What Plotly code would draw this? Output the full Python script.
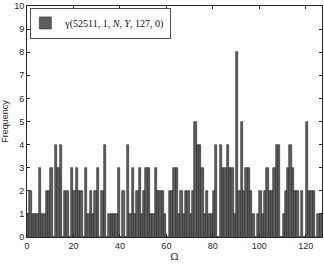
import plotly.graph_objects as go

# bin left edges 0..126 (bin width 1), frequencies
omega_bins = list(range(127))
frequency = [
    1, 2, 1, 1, 1, 3, 1, 1, 2, 2,
    3, 0, 4, 3, 4, 0, 2, 2, 0, 3,
    2, 3, 2, 2, 0, 3, 1, 2, 1, 2,
    3, 0, 2, 4, 0, 1, 1, 1, 1, 3,
    0, 2, 0, 4, 1, 3, 1, 2, 3, 1,
    2, 3, 3, 1, 1, 3, 2, 2, 2, 1,
    0, 2, 2, 3, 3, 1, 2, 1, 2, 2,
    1, 2, 5, 4, 4, 3, 1, 2, 1, 1,
    2, 4, 0, 4, 3, 3, 4, 3, 3, 1,
    8, 2, 5, 2, 3, 3, 2, 1, 0, 1,
    2, 1, 2, 3, 2, 2, 3, 4, 4, 0,
    1, 2, 3, 4, 3, 2, 2, 0, 2, 0,
    5, 2, 2, 2, 0, 1, 1,
]
x_ticks = [0, 20, 40, 60, 80, 100, 120]
y_ticks = list(range(11))
legend_label = "γ(52511, 1, <i>N</i>, <i>Y</i>, 127, 0)"

centers = [b + 0.5 for b in omega_bins]

fig = go.Figure()
fig.add_trace(go.Bar(
    x=centers, y=frequency, width=1.0,
    marker=dict(color="#5e5e5e", line=dict(color="#262626", width=0.6)),
    name=legend_label, showlegend=True,
))

axis_common = dict(
    showgrid=False, zeroline=False, showline=True, linecolor="#262626",
    linewidth=0.8, mirror="ticks", ticks="inside", ticklen=3,
    tickcolor="#262626", tickwidth=0.8,
    tickfont=dict(family="Liberation Sans, Arial", size=9, color="#262626"),
)

fig.update_layout(
    width=324, height=267,
    margin=dict(l=27, r=2, t=6, b=30, autoexpand=False),
    paper_bgcolor="white", plot_bgcolor="white",
    bargap=0,
    xaxis=dict(range=[0, 127], tickvals=x_ticks, **axis_common,
               title=dict(text="Ω", standoff=3,
                          font=dict(family="DejaVu Serif, Liberation Serif", size=10, color="#262626"))),
    yaxis=dict(range=[0, 10], tickvals=y_ticks, **axis_common,
               title=dict(text="Frequency", standoff=4,
                          font=dict(family="Liberation Sans, Arial", size=9, color="#262626"))),
    legend=dict(x=0.012, y=0.993, xanchor="left", yanchor="top",
                bgcolor="white", bordercolor="#262626", borderwidth=0.8,
                font=dict(family="Liberation Serif, DejaVu Serif", size=10, color="#111111"),
                itemwidth=30, tracegroupgap=0, indentation=-6),
)

fig.write_html("out.html", config={"displayModeBar": False},
               post_script="document.body.style.margin='0';document.body.style.padding='0';")
